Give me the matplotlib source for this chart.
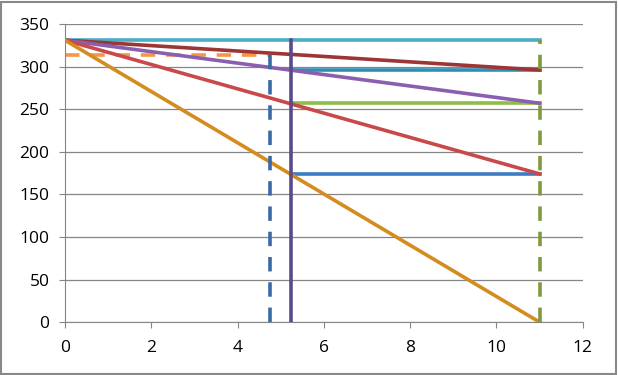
import matplotlib
matplotlib.use("Agg")
import matplotlib.pyplot as plt
from matplotlib.patches import Rectangle

# sloped lines from the common start point to x = 11
x_start = 0
y_start = 331
x_end = 11
end_vals = [296, 257, 174, 0]
slope_colors = ["#9c3634", "#8a5fb0", "#c9494a", "#d48c1e"]

h_levels = [296, 257, 174]
h_colors = ["#2f8fb5", "#8fbc4a", "#3d7cc4"]
x_cut = 5.25

# dashed guides
x_guess = 4.75
y_guess = 314

plt.rcParams['font.family'] = ['Open Sans', 'DejaVu Sans']
fig = plt.figure(figsize=(6.18, 3.75), dpi=100)
ax = fig.add_axes([0.105, 0.141, 0.838, 0.795])

# top cyan line
ax.plot([x_start, x_end], [y_start, y_start], color="#4bacc6", lw=2.6, zorder=3)

for v, c in zip(end_vals, slope_colors):
    ax.plot([x_start, x_end], [y_start, v], color=c, lw=2.6, zorder=3)

for v, c in zip(h_levels, h_colors):
    ax.plot([x_cut, x_end], [v, v], color=c, lw=2.6, zorder=2)

ax.plot([x_cut, x_cut], [0, y_start], color="#5a4a8c", lw=2.6, zorder=4)
ax.plot([x_guess, x_guess], [0, y_guess], color="#3a6aa6", lw=2.6,
        dashes=(4, 3), zorder=4)
ax.plot([x_start, x_guess], [y_guess, y_guess], color="#f79646", lw=2.6,
        dashes=(4, 3), zorder=2)
ax.plot([x_end, x_end], [0, y_start], color="#7f9a3f", lw=2.6,
        dashes=(4, 3), zorder=4)

ax.set_xlim(0, 12)
ax.set_ylim(0, 350)
ax.set_xticks(range(0, 13, 2))
ax.set_yticks(range(0, 351, 50))
ax.yaxis.grid(True, color="#868686", lw=0.9)
ax.set_axisbelow(True)
for s in ["top", "right"]:
    ax.spines[s].set_visible(False)
for s in ["left", "bottom"]:
    ax.spines[s].set_color("#868686")
ax.tick_params(axis="both", colors="#868686", labelcolor="black",
               labelsize=12.5, length=4, direction="out")
ax.tick_params(axis="y", pad=7)
ax.tick_params(axis="x", pad=9)

fig.patches.append(Rectangle((0.002, 0.003), 0.995, 0.993, transform=fig.transFigure,
                             fill=False, edgecolor="#888888", lw=1.5))

fig.savefig("out.png", dpi=100)
